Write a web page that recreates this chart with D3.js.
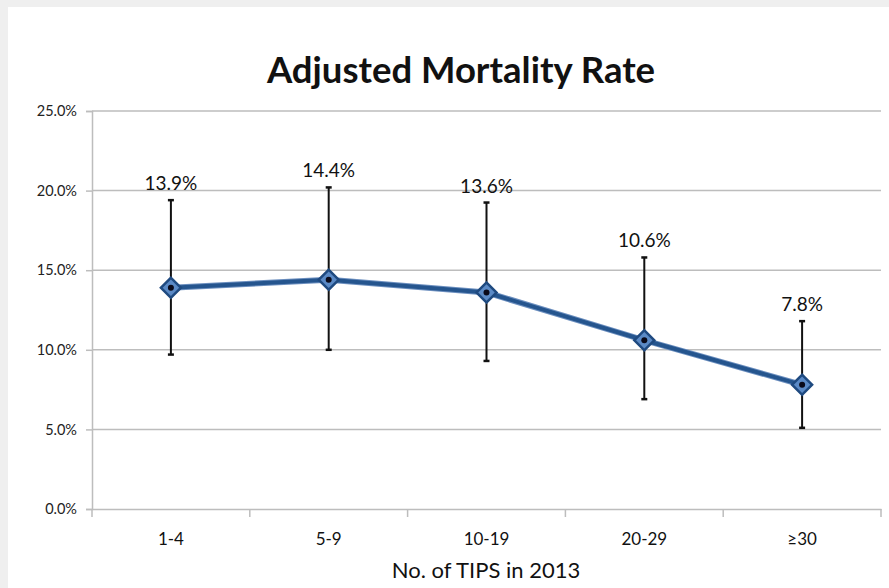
<!DOCTYPE html>
<html><head><meta charset="utf-8">
<script src="https://cdn.jsdelivr.net/npm/d3@7/dist/d3.min.js"></script>
<style>
html,body{margin:0;padding:0;background:#fff;}
svg{display:block;}
</style></head>
<body>
<svg id="chart" width="889" height="588"></svg>
<script>
const categories = ["1-4","5-9","10-19","20-29","\u226530"];
const rates = [13.9,14.4,13.6,10.6,7.8];
const upper = [19.4,20.2,19.25,15.8,11.8];
const lower = [9.7,10.0,9.3,6.9,5.1];
const yTicks = [0,5,10,15,20,25];

const FONT = "Lato, 'Open Sans', sans-serif";
const svg = d3.select("#chart");
const W = 889, H = 588;
const m = {left:92, right:8, top:111, bottom:79};

svg.append("rect").attr("width",W).attr("height",H).attr("fill","#fff");
svg.append("rect").attr("x",0).attr("y",0).attr("width",W).attr("height",7).attr("fill","#efefef");
svg.append("rect").attr("x",0).attr("y",0).attr("width",8).attr("height",H).attr("fill","#efefef");

const x = d3.scaleBand().domain(categories).range([m.left, W-m.right]);
const y = d3.scaleLinear().domain([0,25]).range([H-m.bottom, m.top]);

// gridlines
svg.append("g").selectAll("line").data(yTicks.filter(d=>d>0)).join("line")
  .attr("x1",m.left).attr("x2",W-m.right)
  .attr("y1",d=>y(d)).attr("y2",d=>y(d))
  .attr("stroke","#bdbdbd").attr("stroke-width",1.5);

// y axis
const yAxis = svg.append("g").attr("transform",`translate(${m.left},0)`)
  .call(d3.axisLeft(y).tickValues(yTicks).tickFormat(d=>d.toFixed(1)+"%").tickSize(6).tickPadding(9));
yAxis.select(".domain").attr("stroke","#bdbdbd").attr("stroke-width",1.5);
yAxis.selectAll(".tick line").attr("stroke","#bdbdbd").attr("stroke-width",1.5);
yAxis.selectAll("text").attr("font-family",FONT).attr("font-size",14.5).attr("fill","#222");

// x axis
const xAxis = svg.append("g").attr("transform",`translate(0,${y(0)})`)
  .call(d3.axisBottom(x).tickSize(0).tickPadding(24));
xAxis.select(".domain").attr("stroke","#bdbdbd").attr("stroke-width",1.5);
xAxis.selectAll("text").attr("font-family",FONT).attr("font-size",17).attr("fill","#111");
// boundary ticks
const bounds = categories.map(c=>x(c)).concat([x(categories[categories.length-1])+x.bandwidth()]);
svg.append("g").selectAll("line").data(bounds).join("line")
  .attr("x1",d=>d).attr("x2",d=>d).attr("y1",y(0)).attr("y2",y(0)+8)
  .attr("stroke","#bdbdbd").attr("stroke-width",1.5);

const cx = c => x(c) + x.bandwidth()/2;

// error bars
const eb = svg.append("g");
categories.forEach((c,i)=>{
  eb.append("line").attr("x1",cx(c)).attr("x2",cx(c)).attr("y1",y(upper[i])).attr("y2",y(lower[i]))
    .attr("stroke","#111").attr("stroke-width",2);
  [upper[i],lower[i]].forEach(v=>{
    eb.append("line").attr("x1",cx(c)-3).attr("x2",cx(c)+3).attr("y1",y(v)).attr("y2",y(v))
      .attr("stroke","#111").attr("stroke-width",2.5);
  });
});

// line
const line = d3.line().x((d,i)=>cx(categories[i])).y(d=>y(d));
svg.append("path").datum(rates).attr("d",line).attr("fill","none")
  .attr("stroke","#6c8fbf").attr("stroke-width",6).attr("stroke-linejoin","round");
svg.append("path").datum(rates).attr("d",line).attr("fill","none")
  .attr("stroke","#25558e").attr("stroke-width",4).attr("stroke-linejoin","round");

// markers
const mk = svg.append("g");
rates.forEach((v,i)=>{
  const px = cx(categories[i]), py = y(v);
  mk.append("path").attr("d",d3.symbol(d3.symbolSquare, 200)())
    .attr("transform",`translate(${px},${py}) rotate(45)`)
    .attr("fill","#5b8ac6").attr("stroke","#1f4a80").attr("stroke-width",2.5);
  mk.append("circle").attr("cx",px).attr("cy",py).attr("r",3).attr("fill","#0a0a1a");
});

// value labels
svg.append("g").selectAll("text").data(rates).join("text")
  .attr("x",(d,i)=>cx(categories[i]))
  .attr("y",(d,i)=>y(upper[i])-10)
  .attr("text-anchor","middle")
  .attr("font-family",FONT).attr("font-size",19).attr("fill","#111")
  .text(d=>d.toFixed(1)+"%");

// title
svg.append("text").attr("x",461).attr("y",83).attr("text-anchor","middle")
  .attr("font-family",FONT).attr("font-weight","bold").attr("font-size",36.5).attr("fill","#111")
  .text("Adjusted Mortality Rate");

// axis title
svg.append("text").attr("x",486).attr("y",578).attr("text-anchor","middle")
  .attr("font-family",FONT).attr("font-size",22).attr("fill","#111")
  .text("No. of TIPS in 2013");
</script>
</body></html>
